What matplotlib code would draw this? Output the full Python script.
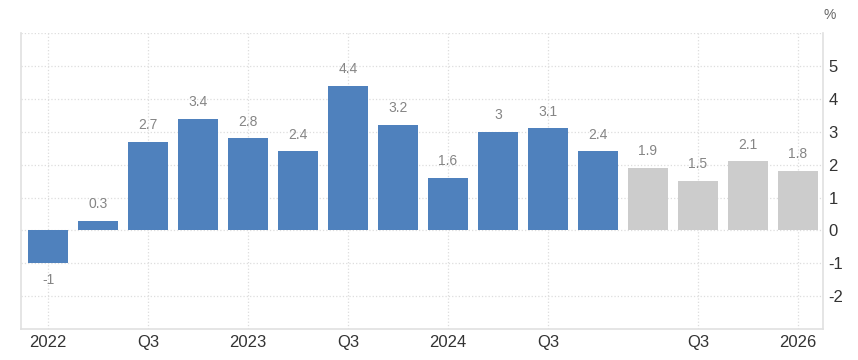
import matplotlib
matplotlib.use('Agg')
import matplotlib.pyplot as plt

########### Data
values = [-1, 0.3, 2.7, 3.4, 2.8, 2.4, 4.4, 3.2, 1.6, 3, 3.1, 2.4, 1.9, 1.5, 2.1, 1.8]
value_labels = ['-1', '0.3', '2.7', '3.4', '2.8', '2.4', '4.4', '3.2', '1.6', '3', '3.1', '2.4',
                '1.9', '1.5', '2.1', '1.8']
n_actual = 12                      # first 12 are actual, rest forecast
tick_pos = [0, 2, 4, 6, 8, 10, 13, 15]
tick_labels = ['2022', 'Q3', '2023', 'Q3', '2024', 'Q3', 'Q3', '2026']
y_ticks = [-2, -1, 0, 1, 2, 3, 4, 5]
###########

BLUE = '#4f81bd'
GREY = '#cccccc'

plt.rcParams['font.family'] = ['Liberation Sans', 'DejaVu Sans']

fig = plt.figure(figsize=(8.58, 3.6), dpi=100)
ax = fig.add_axes([0.0245, 0.086, 0.9345, 0.822])

x = list(range(len(values)))
colors = [BLUE if i < n_actual else GREY for i in x]
ax.bar(x, values, width=0.8, color=colors, zorder=2)

for i, v in enumerate(values):
    if v >= 0:
        ax.annotate(value_labels[i], (i, v), xytext=(0, 7), textcoords='offset points',
                    ha='center', va='bottom', fontsize=10, color='#858585')
    else:
        ax.annotate(value_labels[i], (i, v), xytext=(0, -7), textcoords='offset points',
                    ha='center', va='top', fontsize=10, color='#858585')

ax.set_xlim(-0.54, 15.5)
ax.set_ylim(-3, 6)

ax.set_xticks(tick_pos)
ax.set_xticklabels(tick_labels, fontsize=12, color='#333333')
ax.set_yticks(y_ticks + [6])
ax.set_yticklabels([str(t) for t in y_ticks] + [''], fontsize=12, color='#333333')
ax.yaxis.tick_right()
ax.tick_params(axis='both', length=0, pad=4)

ax.grid(True, color='#dddddd', linestyle=':', linewidth=0.9, zorder=0)
ax.spines['top'].set_visible(False)
for s in ['left', 'bottom', 'right']:
    ax.spines[s].set_color('#e0e0e0')
    ax.spines[s].set_linewidth(1.2)

fig.text(0.967, 0.958, '%', ha='center', va='center', fontsize=10, color='#666666')

fig.savefig('out.png', dpi=100)
